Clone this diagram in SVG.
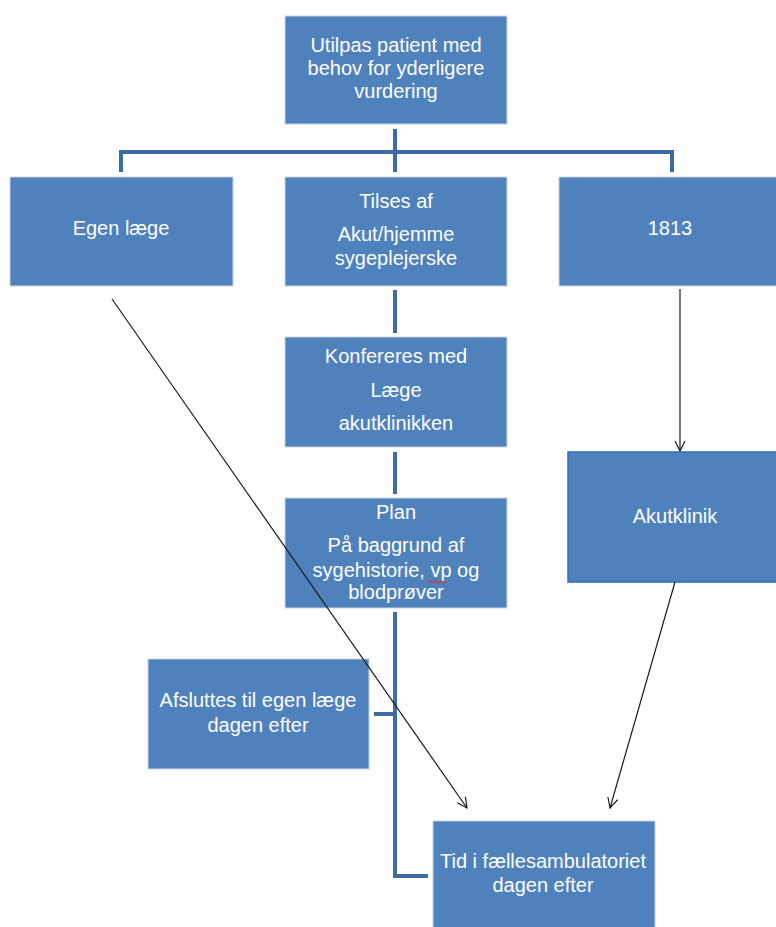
<svg xmlns="http://www.w3.org/2000/svg" width="776" height="927" viewBox="0 0 776 927">
<style>
.box{fill:#4f81bd;stroke:#c5d3e8;stroke-width:1}
.t{font-family:"Liberation Sans",Arial,sans-serif;font-size:20px;fill:#ffffff;text-anchor:middle}
.bar{fill:none;stroke:#3e6ba3;stroke-width:4}
.arr{fill:none;stroke:#1a1a1a;stroke-width:1.2}
</style>
<defs>
<marker id="ah" viewBox="0 0 12 12" refX="11" refY="6" markerWidth="12" markerHeight="12" markerUnits="userSpaceOnUse" orient="auto">
<path d="M1,1 L11,6 L1,11" fill="none" stroke="#1a1a1a" stroke-width="1.2"/>
</marker>
</defs>
<g id="connectors">
<path class="bar" d="M395,129 V172 M121,172 V152 H672 V172"/>
<path class="bar" d="M395,290 V333"/>
<path class="bar" d="M395,452 V494"/>
<path class="bar" d="M395,612 V876 H428 M374,714 H395"/>
</g>
<g id="n-top">
<rect class="box" x="285" y="16" width="222" height="108"/>
<text class="t" x="396" y="52">Utilpas patient med</text>
<text class="t" x="396" y="75">behov for yderligere</text>
<text class="t" x="396" y="98">vurdering</text>
</g>
<g id="n-egen">
<rect class="box" x="10" y="177" width="223" height="109"/>
<text class="t" x="121" y="235">Egen læge</text>
</g>
<g id="n-tilses">
<rect class="box" x="285" y="177" width="222" height="109"/>
<text class="t" x="396" y="208">Tilses af</text>
<text class="t" x="396" y="241">Akut/hjemme</text>
<text class="t" x="396" y="265">sygeplejerske</text>
</g>
<g id="n-1813">
<rect class="box" x="559" y="177" width="224" height="109"/>
<text class="t" x="670" y="235">1813</text>
</g>
<g id="n-konf">
<rect class="box" x="285" y="337" width="222" height="110"/>
<text class="t" x="396" y="363">Konfereres med</text>
<text class="t" x="396" y="397">Læge</text>
<text class="t" x="396" y="430">akutklinikken</text>
</g>
<g id="n-plan">
<rect class="box" x="285" y="498" width="222" height="110"/>
<text class="t" x="396" y="519">Plan</text>
<text class="t" x="396" y="552">På baggrund af</text>
<text class="t" x="396" y="577">sygehistorie, vp og</text>
<text class="t" x="396" y="599">blodprøver</text>
<path d="M428,582 q1.5,-2 3,0 t3,0 t3,0 t3,0 t3,0 t3,0" fill="none" stroke="#e03030" stroke-width="1.2"/>
</g>
<g id="n-akut">
<rect x="568" y="452" width="216" height="130" fill="#4f81bd" stroke="#2f6fbf" stroke-width="1.5"/>
<text class="t" x="675" y="523">Akutklinik</text>
</g>
<g id="n-afsl">
<rect class="box" x="148" y="659" width="221" height="110"/>
<text class="t" x="258" y="707">Afsluttes til egen læge</text>
<text class="t" x="258" y="732">dagen efter</text>
</g>
<g id="n-tid">
<rect class="box" x="433" y="821" width="222" height="110"/>
<text class="t" x="543" y="868">Tid i fællesambulatoriet</text>
<text class="t" x="543" y="892">dagen efter</text>
</g>
<g id="arrows">
<line class="arr" x1="680" y1="289" x2="680" y2="451" marker-end="url(#ah)"/>
<line class="arr" x1="112" y1="299" x2="467" y2="808" marker-end="url(#ah)"/>
<line class="arr" x1="675" y1="582" x2="610" y2="808" marker-end="url(#ah)"/>
</g>
</svg>
